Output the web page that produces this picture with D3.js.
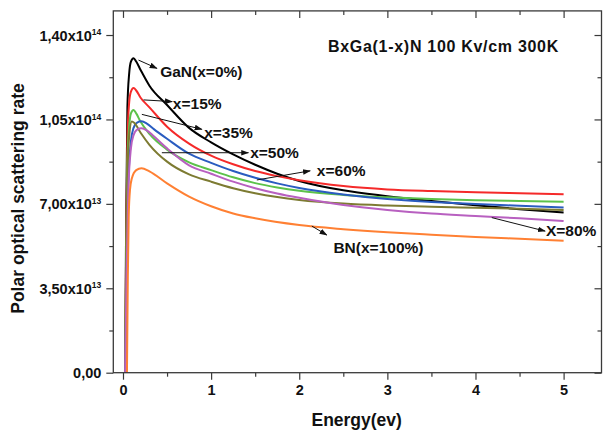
<!DOCTYPE html>
<html>
<head>
<meta charset="utf-8">
<script src="https://cdn.jsdelivr.net/npm/d3@7"></script>
<style>
  html, body { margin: 0; padding: 0; background: #fff; }
  svg { display: block; font-family: "Liberation Sans", Arial, sans-serif; }
  text { font-weight: bold; fill: #111; }
</style>
</head>
<body>
<svg id="chart" width="604" height="434"></svg>
<script>
// Rates are stored in units of 1e13 s^-1, energies in eV.
const RATE_UNIT = 1e13;

const seriesNames = ["GaN(x=0%)", "x=15%", "x=35%", "x=50%", "x=60%", "X=80%", "BN(x=100%)"];
const seriesColors = ["#000000", "#f52a2a", "#5cc24a", "#2a5cc0", "#7d7b32", "#b860c0", "#ff8033"];

const gaN = [[0.025,0],[0.035,6],[0.05,11],[0.07,12.4],[0.09,12.9],[0.12,13.04],[0.15,12.9],[0.2,12.55],[0.3,11.9],[0.5,11.1],[0.75,10.15],[1.0,9.55],[1.25,9.05],[1.5,8.62],[1.75,8.25],[2.0,7.95],[2.5,7.56],[3.0,7.32],[3.5,7.12],[4.0,6.94],[4.5,6.78],[5.0,6.64]];
const x15 = [[0.025,0],[0.035,5],[0.05,9.6],[0.07,11.2],[0.09,11.65],[0.12,11.8],[0.15,11.7],[0.2,11.4],[0.3,11.0],[0.5,10.2],[0.75,9.5],[1.0,9.0],[1.25,8.64],[1.5,8.36],[1.75,8.15],[2.0,7.98],[2.5,7.74],[3.0,7.6],[3.5,7.53],[4.0,7.48],[4.5,7.44],[5.0,7.40]];
const x35 = [[0.025,0],[0.035,4.5],[0.05,8.8],[0.07,10.2],[0.09,10.75],[0.12,10.89],[0.15,10.75],[0.2,10.4],[0.3,9.9],[0.5,9.25],[0.75,8.72],[1.0,8.4],[1.25,8.1],[1.5,7.86],[1.75,7.68],[2.0,7.54],[2.5,7.37],[3.0,7.27],[3.5,7.2],[4.0,7.15],[4.5,7.12],[5.0,7.09]];
const x50 = [[0.025,0],[0.04,4],[0.06,7.8],[0.09,9.6],[0.12,10.15],[0.16,10.37],[0.21,10.42],[0.27,10.33],[0.35,10.1],[0.5,9.7],[0.75,9.08],[1.0,8.7],[1.25,8.36],[1.5,8.08],[1.75,7.85],[2.0,7.66],[2.5,7.39],[3.0,7.2],[3.5,7.08],[4.0,6.99],[4.5,6.92],[5.0,6.85]];
const x60 = [[0.025,0],[0.035,4],[0.05,8.2],[0.07,9.8],[0.1,10.41],[0.13,10.35],[0.2,9.95],[0.3,9.45],[0.5,8.75],[0.75,8.22],[1.0,7.92],[1.25,7.65],[1.5,7.44],[1.75,7.28],[2.0,7.16],[2.5,7.01],[3.0,6.93],[3.5,6.88],[4.0,6.84],[4.5,6.8],[5.0,6.75]];
const x80 = [[0.025,0],[0.04,4],[0.06,7.5],[0.09,9.3],[0.12,9.85],[0.16,10.08],[0.21,10.13],[0.27,10.05],[0.35,9.8],[0.5,9.3],[0.75,8.6],[1.0,8.25],[1.25,7.92],[1.5,7.65],[1.75,7.43],[2.0,7.25],[2.5,6.95],[3.0,6.75],[3.5,6.6],[4.0,6.5],[4.5,6.4],[5.0,6.29]];
const bN = [[0.045,0],[0.055,4],[0.065,6.5],[0.08,7.6],[0.1,8.05],[0.15,8.4],[0.21,8.48],[0.3,8.35],[0.5,7.85],[0.75,7.3],[1.0,6.9],[1.25,6.6],[1.5,6.4],[2.0,6.12],[2.5,5.95],[3.0,5.82],[3.5,5.72],[4.0,5.63],[4.5,5.55],[5.0,5.47]];
const seriesData = [gaN, x15, x35, x50, x60, x80, bN];

// Axis ticks
const xTickValues = [0, 1, 2, 3, 4, 5];
const xMinorTicks = [0.5, 1.5, 2.5, 3.5, 4.5];
const yTickValues = [0, 3.5, 7.0, 10.5, 14.0];
const yTickMantissa = ["0,00", "3,50", "7,00", "1,05", "1,40"];
const yTickExponent = ["", "13", "13", "14", "14"];
const yMinorTicks = [1.75, 5.25, 8.75, 12.25];

// Callout labels: [text, arrow tail E, tail rate, arrow head E, head rate, label E, label rate]
const callouts = [
  ["GaN(x=0%)", 0.176, 12.96, 0.385, 12.62, 0.422, 12.26],
  ["x=15%", 0.233, 11.31, 0.558, 11.24, 0.566, 10.93],
  ["x=35%", 0.214, 10.71, 0.895, 10.09, 0.921, 9.73],
  ["x=50%", 0.441, 9.12, 1.424, 9.12, 1.443, 8.90],
  ["x=60%", 1.519, 7.99, 2.124, 8.37, 2.20, 8.16],
  ["X=80%", 4.185, 6.43, 4.79, 5.87, 4.80, 5.67],
  ["BN(x=100%)", 2.143, 6.08, 2.313, 5.71, 2.388, 4.96]
];

const titleText = "BxGa(1-x)N 100 Kv/cm 300K";
const xLabel = "Energy(ev)";
const yLabel = "Polar optical scattering rate";

const svg = d3.select("#chart");
const plot = { left: 113.3, right: 601.5, top: 10.9, bottom: 372.7 };

const x = d3.scaleLinear().domain([-0.11, 5.43]).range([plot.left, plot.right]);
const y = d3.scaleLinear().domain([0, 15 * RATE_UNIT]).range([plot.bottom, plot.top]);

const axisColor = "#3a3a3a";
const fontFamily = "Liberation Sans, Arial, sans-serif";

// Clip for curves
svg.append("defs").append("clipPath").attr("id", "plotClip")
  .append("rect")
  .attr("x", plot.left).attr("y", plot.top)
  .attr("width", plot.right - plot.left).attr("height", plot.bottom - plot.top + 2);

svg.select("defs").append("marker")
  .attr("id", "arrowHead")
  .attr("viewBox", "0 0 10 10")
  .attr("refX", 9).attr("refY", 5)
  .attr("markerWidth", 8).attr("markerHeight", 8)
  .attr("markerUnits", "userSpaceOnUse")
  .attr("orient", "auto")
  .append("path").attr("d", "M0,1.5 L10,5 L0,8.5 Z").attr("fill", "#111");

// Curves
const line = d3.line()
  .x(d => x(d[0]))
  .y(d => y(d[1] * RATE_UNIT))
  .curve(d3.curveMonotoneX);

svg.append("g").attr("clip-path", "url(#plotClip)")
  .selectAll("path")
  .data(seriesData)
  .join("path")
  .attr("d", d => line(d))
  .attr("fill", "none")
  .attr("stroke", (d, i) => seriesColors[i])
  .attr("stroke-width", 2)
  .attr("stroke-linejoin", "round");

// Axes
function styleAxis(g) {
  g.select(".domain").remove();
  g.selectAll(".tick line").attr("stroke", axisColor).attr("stroke-width", 1.2);
}

const bottomAxis = svg.append("g")
  .attr("transform", `translate(0,${plot.bottom})`)
  .call(d3.axisBottom(x).tickValues(xTickValues).tickSize(7).tickPadding(5).tickFormat(d3.format("d")));
styleAxis(bottomAxis);
bottomAxis.selectAll("text").attr("font-size", 14.5).attr("font-weight", "bold").attr("fill", "#111")
  .attr("font-family", fontFamily);

svg.append("g").attr("transform", `translate(0,${plot.bottom})`)
  .call(d3.axisBottom(x).tickValues(xMinorTicks).tickSize(4).tickFormat(""))
  .call(styleAxis);

svg.append("g").attr("transform", `translate(0,${plot.top})`)
  .call(d3.axisBottom(x).tickValues(xTickValues).tickSize(7).tickFormat(""))
  .call(styleAxis);
svg.append("g").attr("transform", `translate(0,${plot.top})`)
  .call(d3.axisBottom(x).tickValues(xMinorTicks).tickSize(4).tickFormat(""))
  .call(styleAxis);

const leftAxis = svg.append("g")
  .attr("transform", `translate(${plot.left},0)`)
  .call(d3.axisLeft(y).tickValues(yTickValues.map(v => v * RATE_UNIT)).tickSize(7).tickFormat(""));
styleAxis(leftAxis);
leftAxis.selectAll(".tick").each(function(d, i) {
  const t = d3.select(this).append("text")
    .attr("x", -12).attr("dy", "0.35em")
    .attr("text-anchor", "end")
    .attr("font-size", 14.5).attr("font-weight", "bold").attr("fill", "#111")
    .attr("font-family", fontFamily);
  if (yTickExponent[i]) {
    t.append("tspan").text(yTickMantissa[i] + "x10");
    t.append("tspan").attr("dy", "-0.65em").attr("font-size", 8.5).text(yTickExponent[i]);
  } else {
    t.text(yTickMantissa[i]);
  }
});
svg.append("g").attr("transform", `translate(${plot.left},0)`)
  .call(d3.axisLeft(y).tickValues(yMinorTicks.map(v => v * RATE_UNIT)).tickSize(4).tickFormat(""))
  .call(styleAxis);

svg.append("g").attr("transform", `translate(${plot.right},0)`)
  .call(d3.axisRight(y).tickValues(yTickValues.map(v => v * RATE_UNIT)).tickSize(-7).tickFormat(""))
  .call(styleAxis);
svg.append("g").attr("transform", `translate(${plot.right},0)`)
  .call(d3.axisRight(y).tickValues(yMinorTicks.map(v => v * RATE_UNIT)).tickSize(-4).tickFormat(""))
  .call(styleAxis);

// Frame
svg.append("rect")
  .attr("x", plot.left).attr("y", plot.top)
  .attr("width", plot.right - plot.left).attr("height", plot.bottom - plot.top)
  .attr("fill", "none").attr("stroke", axisColor).attr("stroke-width", 1.3);

// Callouts
const co = svg.append("g");
callouts.forEach(c => {
  co.append("line")
    .attr("x1", x(c[1])).attr("y1", y(c[2] * RATE_UNIT))
    .attr("x2", x(c[3])).attr("y2", y(c[4] * RATE_UNIT))
    .attr("stroke", "#111").attr("stroke-width", 1)
    .attr("marker-end", "url(#arrowHead)");
  co.append("text")
    .attr("x", x(c[5])).attr("y", y(c[6] * RATE_UNIT))
    .attr("font-size", 15.5)
    .text(c[0]);
});

// Title
svg.append("text")
  .attr("x", 328).attr("y", 51.5)
  .attr("font-size", 16)
  .attr("letter-spacing", 0.7)
  .text(titleText);

// Axis titles
svg.append("text")
  .attr("x", 356.7).attr("y", 426)
  .attr("text-anchor", "middle")
  .attr("font-size", 17.5)
  .text(xLabel);

svg.append("text")
  .attr("transform", "translate(24,198.5) rotate(-90)")
  .attr("text-anchor", "middle")
  .attr("font-size", 17.5)
  .text(yLabel);
</script>
</body>
</html>
